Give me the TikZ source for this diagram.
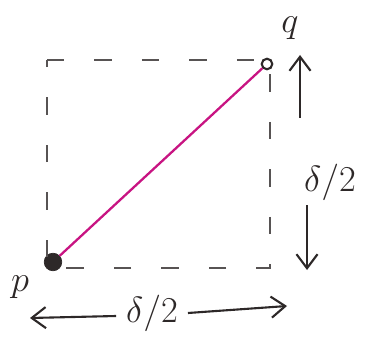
\documentclass[tikz,border=0pt]{standalone}
\usepackage{amsmath,amssymb}
\usetikzlibrary{arrows.meta,positioning}
\definecolor{pinkline}{RGB}{200,20,130}
\definecolor{ink}{RGB}{45,40,40}

\begin{document}
\begin{tikzpicture}[x=0.02cm, y=-0.02cm,
    pt/.style={circle, draw=ink, fill=ink, inner sep=0pt},
    box/.style={draw=ink!80, line width=1.1pt, dash pattern=on 0.35cm off 0.6cm},
    seg/.style={draw=pinkline, line width=1.3pt},
    arr/.style={-{Straight Barb[length=8pt, width=12pt]}, line width=1.2pt, draw=ink},
    lbl/.style={font=\huge, text=ink, inner sep=1pt}
]
\useasboundingbox (0,0) rectangle (382,341);
\fill[white] (0,0) rectangle (382,341);

\coordinate (tl) at (47,60);
\coordinate (tr) at (270,60);
\coordinate (bl) at (47,268);
\coordinate (br) at (270,268);
\node[pt, minimum size=10pt] (p) at (53,262) {};
\node[pt, fill=none, line width=1.2pt, minimum size=6pt] (q) at (267,64) {};

\draw[box] (tl) -- (tr) -- (br) -- (bl) -- cycle;
\draw[seg] (p) -- (q);

\node[lbl] (plbl) at (20,287) {$p$};
\node[lbl] (qlbl) at (290,28) {$q$};

\node[lbl] (vlbl) at (330,182) {$\delta/2$};
\coordinate (vtop) at (300,55);
\coordinate (vbot) at (307,270);
\draw[arr] (300,118) -- (vtop);
\draw[arr] (307,205) -- (vbot);

\node[lbl] (hlbl) at (152,313) {$\delta/2$};
\coordinate (hleft) at (30,318);
\coordinate (hright) at (287,306);
\draw[arr] (hlbl.west) ++(-8,3) -- (hleft);
\draw[arr] (hlbl.east) ++(8,0) -- (hright);
\end{tikzpicture}
\end{document}
